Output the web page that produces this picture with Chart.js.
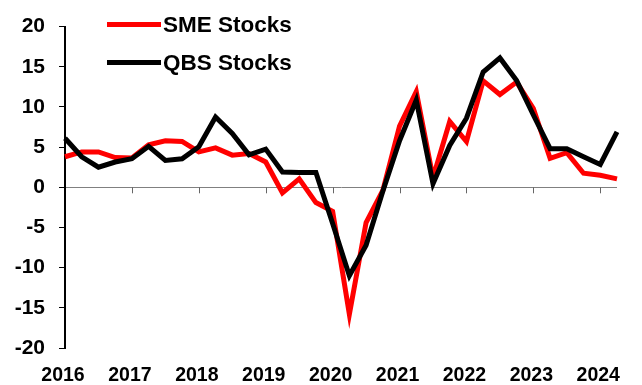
<!DOCTYPE html>
<html>
<head>
<meta charset="utf-8">
<script src="https://cdn.jsdelivr.net/npm/chart.js@4.4.1/dist/chart.umd.min.js"></script>
<style>
  html, body { margin: 0; padding: 0; background: #fff; }
  #wrap { position: relative; width: 642px; height: 385px; }
  .key { position: absolute; left: 107px; height: 30px; font: bold 22.5px "Liberation Sans", Arial, sans-serif; color: #000; white-space: nowrap; }
  .key span.swatch { position: absolute; left: 0; top: 12px; width: 54px; height: 5px; }
  .key span.txt { position: absolute; left: 56px; top: 2px; line-height: 26px; }
</style>
</head>
<body>
<div id="wrap">
  <canvas id="chart" width="642" height="385"></canvas>
  <div class="key" style="top:10px"><span class="swatch" style="background:#ff0000"></span><span class="txt">SME Stocks</span></div>
  <div class="key" style="top:48px"><span class="swatch" style="background:#000"></span><span class="txt">QBS Stocks</span></div>
</div>
<script>
// quarterly readings, 2016 Q1 .. 2024 Q2
const quarters = [
  '2016Q1', '2016Q2', '2016Q3', '2016Q4',
  '2017Q1', '2017Q2', '2017Q3', '2017Q4',
  '2018Q1', '2018Q2', '2018Q3', '2018Q4',
  '2019Q1', '2019Q2', '2019Q3', '2019Q4',
  '2020Q1', '2020Q2', '2020Q3', '2020Q4',
  '2021Q1', '2021Q2', '2021Q3', '2021Q4',
  '2022Q1', '2022Q2', '2022Q3', '2022Q4',
  '2023Q1', '2023Q2', '2023Q3', '2023Q4',
  '2024Q1', '2024Q2'
];

const smeStocks = [
  3.8, 4.4, 4.4, 3.7,
  3.65, 5.3, 5.8, 5.7,
  4.4, 4.9, 4.0, 4.2,
  3.15, -0.7, 1.05, -1.9,
  -3.0, -15.8, -4.4, -0.4,
  7.6, 11.9, 1.2, 8.2,
  5.7, 13.25, 11.55, 13.1,
  9.8, 3.6, 4.3, 1.75,
  1.5, 1.05
];

const qbsStocks = [
  6.1, 3.8, 2.5, 3.15,
  3.55, 5.1, 3.35, 3.55,
  5.05, 8.75, 6.7, 4.05,
  4.75, 1.9, 1.85, 1.85,
  -4.5, -11.0, -7.2, -0.5,
  5.8, 10.85, 0.45, 5.2,
  8.6, 14.35, 16.1, 13.3,
  9.0, 4.8, 4.8, 3.8,
  2.85, 6.9
];

const yTicks = [-20, -15, -10, -5, 0, 5, 10, 15, 20];

const tickFont = { family: '"Liberation Sans", Arial, sans-serif', weight: 'bold' };

// small year marks hanging off the zero line
const zeroTicks = {
  id: 'zeroTicks',
  beforeDatasetsDraw(chart) {
    const { ctx, scales: { x, y } } = chart;
    const y0 = y.getPixelForValue(0);
    ctx.save();
    ctx.strokeStyle = '#666';
    ctx.lineWidth = 1;
    ctx.beginPath();
    quarters.forEach((q, i) => {
      if (i > 0 && q.endsWith('Q1')) {
        const px = Math.round(x.getPixelForValue(i)) + 0.5;
        ctx.moveTo(px, y0);
        ctx.lineTo(px, y0 + 6);
      }
    });
    ctx.stroke();
    ctx.restore();
  }
};

new Chart(document.getElementById('chart'), {
  type: 'line',
  data: {
    labels: quarters,
    datasets: [
      { label: 'SME Stocks', data: smeStocks, borderColor: '#ff0000', borderWidth: 5, order: 1 },
      { label: 'QBS Stocks', data: qbsStocks, borderColor: '#000000', borderWidth: 5, order: 0 }
    ]
  },
  options: {
    responsive: false,
    animation: false,
    layout: { padding: { left: 0, right: 25, top: 24, bottom: 0 } },
    elements: { point: { radius: 0 }, line: { tension: 0 } },
    plugins: { legend: { display: false }, tooltip: { enabled: false } },
    scales: {
      x: {
        type: 'category',
        offset: false,
        grid: { display: false, drawTicks: false },
        border: { display: false },
        ticks: {
          autoSkip: false,
          maxRotation: 0,
          padding: 16,
          labelOffset: -2,
          color: '#000',
          font: { ...tickFont, size: 19.5 },
          callback: (v, i) => quarters[i].endsWith('Q1') ? quarters[i].slice(0, 4) : ''
        },
        afterFit: s => { s.height = 37; }
      },
      y: {
        min: -20,
        max: 20,
        afterBuildTicks: s => { s.ticks = yTicks.map(v => ({ value: v })); },
        grid: {
          color: c => (c.tick && c.tick.value === 0) ? '#808080' : 'rgba(0,0,0,0)',
          tickColor: '#000',
          tickLength: 6,
          lineWidth: 1
        },
        border: { display: true, color: '#000', width: 2 },
        ticks: {
          padding: 14,
          color: '#000',
          font: { ...tickFont, size: 21 }
        },
        afterFit: s => { s.width = 65; }
      }
    }
  },
  plugins: [zeroTicks]
});
</script>
</body>
</html>
